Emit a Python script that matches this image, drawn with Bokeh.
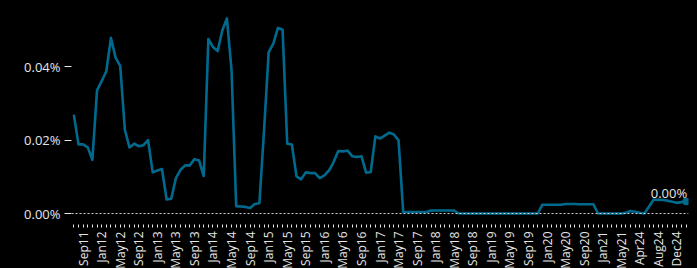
import math
from bokeh.plotting import figure
from bokeh.models import Range1d, FixedTicker, PrintfTickFormatter, Span, ColumnDataSource
from bokeh.core.properties import value
from bokeh.embed import file_html
from bokeh.resources import INLINE

# ---- data -------------------------------------------------------------
months = (["Jul11", "Aug11", "Sep11", "Oct11", "Nov11", "Dec11"]
          + [m + y for y in ["12", "13", "14", "15", "16", "17", "18", "19", "20"]
             for m in ["Jan", "Feb", "Mar", "Apr", "May", "Jun", "Jul", "Aug", "Sep", "Oct", "Nov", "Dec"]]
          + ["Jan21", "Feb21", "Mar21", "Apr21", "May21", "Jun21", "Jul21", "Aug21"]
          + ["Apr24", "May24", "Jun24", "Jul24", "Aug24", "Sep24", "Oct24", "Nov24", "Dec24", "Jan25", "Feb25"])

rate = [0.0269, 0.0188, 0.0188, 0.0180, 0.0146, 0.0335, 0.0360, 0.0387, 0.0478, 0.0424,
        0.0402, 0.0228, 0.0180, 0.0190, 0.0183, 0.0186, 0.0200, 0.0112, 0.0117, 0.0121,
        0.0038, 0.0040, 0.0096, 0.0119, 0.0131, 0.0131, 0.0148, 0.0144, 0.0102, 0.0475,
        0.0453, 0.0442, 0.0498, 0.0531, 0.0389, 0.0020, 0.0019, 0.0018, 0.0015, 0.0026,
        0.0028, 0.0225, 0.0439, 0.0462, 0.0505, 0.0500, 0.0190, 0.0188, 0.0101, 0.0093,
        0.0112, 0.0110, 0.0110, 0.0096, 0.0104, 0.0117, 0.0140, 0.0170, 0.0169, 0.0171,
        0.0156, 0.0154, 0.0156, 0.0111, 0.0113, 0.0210, 0.0204, 0.0212, 0.0220, 0.0215,
        0.0199, 0.0004, 0.0004, 0.0004, 0.0004, 0.0004, 0.0004, 0.0008, 0.0008, 0.0008,
        0.0008, 0.0008, 0.0008, 0.0, 0.0, 0.0, 0.0, 0.0, 0.0, 0.0,
        0.0, 0.0, 0.0, 0.0, 0.0, 0.0, 0.0, 0.0, 0.0, 0.0,
        0.0, 0.0024, 0.0024, 0.0024, 0.0024, 0.0024, 0.0026, 0.0026, 0.0026, 0.0025,
        0.0025, 0.0025, 0.0025, 0.0, 0.0, 0.0, 0.0, 0.0, 0.0, 0.0002,
        0.0007, 0.0005, 0.0002, 0.0, 0.0019, 0.0038, 0.0037, 0.0037, 0.0035, 0.0032,
        0.0029, 0.0031, 0.0033]

y_ticks = [0.0, 0.02, 0.04]
shown_labels = ["Sep11", "Jan12", "May12", "Sep12", "Jan13", "May13", "Sep13", "Jan14", "May14",
                "Sep14", "Jan15", "May15", "Sep15", "Jan16", "May16", "Sep16", "Jan17", "May17",
                "Sep17", "Jan18", "May18", "Sep18", "Jan19", "May19", "Sep19", "Jan20", "May20",
                "Sep20", "Jan21", "May21", "Apr24", "Aug24", "Dec24"]

# ---- figure -----------------------------------------------------------
FONT = "Open Sans"
TXT = "#e6e6e6"
LINE = "#006a8e"

idx = list(range(len(months)))

p = figure(x_range=Range1d(-0.5, len(months) - 0.5), y_range=Range1d(-0.00299, 0.05524),
           frame_width=617, frame_height=214,
           min_border_left=71, min_border_right=2, min_border_top=10, min_border_bottom=0,
           output_backend="svg", toolbar_location=None,
           background_fill_color="black", border_fill_color="black")
p.outline_line_color = None
p.outline_line_alpha = 0
p.grid.visible = False

src = ColumnDataSource(dict(x=idx, m=months, v=rate))
p.line("x", "v", source=src, line_color=LINE, line_width=2.6, line_join="round")

last = ColumnDataSource(dict(x=[idx[-1]], v=[rate[-1]], t=[f"{rate[-1]:.2f}%"]))
p.scatter("x", "v", source=last, size=7, fill_color=LINE, line_color=LINE)
p.text("x", "v", text="t", source=last, text_align="right", text_baseline="alphabetic",
       x_offset=1, y_offset=-8, text_color=TXT, text_font=value(FONT), text_font_size="13px")

p.add_layout(Span(location=0, dimension="width", line_color="#d0d0d0", line_width=1,
                  line_dash="2 2"))

# y axis
ya = p.yaxis[0]
ya.ticker = FixedTicker(ticks=y_ticks)
ya.formatter = PrintfTickFormatter(format="%.2f%%")
ya.axis_line_color = None
ya.minor_tick_line_color = None
ya.major_tick_in = 0
ya.major_tick_out = 7
ya.major_tick_line_color = TXT
ya.major_label_standoff = 4
ya.major_label_text_color = TXT
ya.major_label_text_font = FONT
ya.major_label_text_font_size = "13px"

# x axis: a tick for every month, a label every fourth month
xa = p.xaxis[0]
xa.ticker = FixedTicker(ticks=idx)
xa.axis_line_color = None
xa.minor_tick_line_color = None
xa.major_tick_in = 0
xa.major_tick_out = 3
xa.major_tick_line_color = TXT
xa.major_label_orientation = math.pi / 2
xa.major_label_standoff = 4
xa.major_label_text_color = TXT
xa.major_label_text_font = FONT
xa.major_label_text_font_size = "12px"
xa.major_label_overrides = {i: (m if m in shown_labels else "") for i, m in zip(idx, months)}

html = file_html(p, INLINE)
html = html.replace("</head>", "<style>html, body { background: #000; }</style></head>", 1)
open("out.html", "w").write(html)
